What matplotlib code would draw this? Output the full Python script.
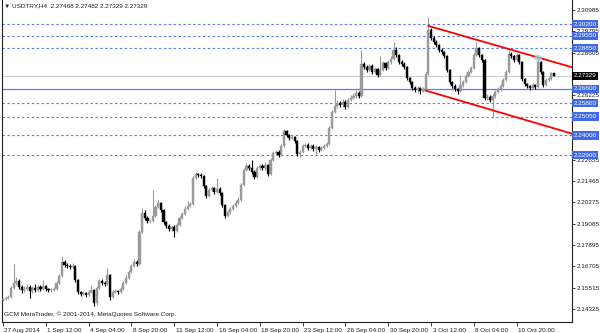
import numpy as np
import matplotlib.pyplot as plt
from matplotlib import transforms

# USDTRY H4 candles (open = previous close)
first_open = 2.1483
close = [2.1489, 2.1494, 2.1500, 2.1550, 2.1578, 2.1589, 2.1556, 2.1539, 2.1544, 2.1556,
         2.1533, 2.1550, 2.1539, 2.1556, 2.1544, 2.1561, 2.1544, 2.1539, 2.1539, 2.1544,
         2.1578, 2.1617, 2.1695, 2.1678, 2.1672, 2.1667, 2.1672, 2.1595, 2.1528, 2.1516,
         2.1522, 2.1511, 2.1528, 2.1539, 2.1466, 2.1550, 2.1589, 2.1578, 2.1572, 2.1622,
         2.1500, 2.1528, 2.1533, 2.1528, 2.1544, 2.1578, 2.1606, 2.1639, 2.1672, 2.1695,
         2.1684, 2.1862, 2.1968, 2.1940, 2.1923, 2.1923, 2.1951, 2.2001, 2.2024, 2.1985,
         2.1917, 2.1895, 2.1879, 2.1890, 2.1867, 2.1901, 2.1940, 2.1962, 2.1990, 2.2007,
         2.2018, 2.2163, 2.2185, 2.2179, 2.2174, 2.2118, 2.2063, 2.2096, 2.2107, 2.2085,
         2.2102, 2.2079, 2.2012, 2.1951, 2.1973, 2.1990, 2.2007, 2.2024, 2.2040, 2.2124,
         2.2207, 2.2230, 2.2218, 2.2196, 2.2168, 2.2218, 2.2230, 2.2218, 2.2235, 2.2185,
         2.2263, 2.2302, 2.2308, 2.2291, 2.2341, 2.2424, 2.2402, 2.2385, 2.2391, 2.2369,
         2.2296, 2.2308, 2.2341, 2.2347, 2.2330, 2.2341, 2.2325, 2.2336, 2.2319, 2.2330,
         2.2341, 2.2353, 2.2441, 2.2530, 2.2564, 2.2580, 2.2569, 2.2586, 2.2558, 2.2597,
         2.2608, 2.2619, 2.2636, 2.2619, 2.2798, 2.2781, 2.2764, 2.2787, 2.2753, 2.2770,
         2.2736, 2.2764, 2.2803, 2.2775, 2.2809, 2.2826, 2.2876, 2.2848, 2.2809, 2.2798,
         2.2781, 2.2720, 2.2697, 2.2664, 2.2653, 2.2664, 2.2647, 2.2658, 2.2742, 2.2987,
         2.2943, 2.2920, 2.2904, 2.2876, 2.2864, 2.2842, 2.2764, 2.2697, 2.2675, 2.2658,
         2.2647, 2.2681, 2.2697, 2.2731, 2.2753, 2.2775, 2.2848, 2.2887, 2.2848, 2.2820,
         2.2608, 2.2614, 2.2597, 2.2619, 2.2642, 2.2658, 2.2675, 2.2709, 2.2753, 2.2853,
         2.2842, 2.2820, 2.2848, 2.2809, 2.2714, 2.2686, 2.2675, 2.2664, 2.2681, 2.2670,
         2.2809, 2.2753, 2.2681, 2.2709, 2.2714, 2.27468, 2.27329]
high = [2.1497, 2.1502, 2.1511, 2.1560, 2.1684, 2.1612, 2.1600, 2.1565, 2.1560, 2.1575,
        2.1567, 2.1562, 2.1572, 2.1567, 2.1565, 2.1595, 2.1567, 2.1552, 2.1548, 2.1555,
        2.1590, 2.1628, 2.1728, 2.1706, 2.1689, 2.1684, 2.1690, 2.1680, 2.1600, 2.1536,
        2.1533, 2.1530, 2.1539, 2.1567, 2.1545, 2.1562, 2.1600, 2.1598, 2.1590, 2.1661,
        2.1630, 2.1539, 2.1545, 2.1540, 2.1556, 2.1590, 2.1620, 2.1650, 2.1684, 2.1710,
        2.1706, 2.1873, 2.1996, 2.1985, 2.1951, 2.1935, 2.2096, 2.2012, 2.2040, 2.2030,
        2.1990, 2.1925, 2.1906, 2.1901, 2.1900, 2.1912, 2.1951, 2.1973, 2.2007, 2.2035,
        2.2030, 2.2174, 2.2196, 2.2190, 2.2190, 2.2180, 2.2124, 2.2107, 2.2118, 2.2113,
        2.2163, 2.2110, 2.2085, 2.2018, 2.1985, 2.2001, 2.2018, 2.2040, 2.2057, 2.2135,
        2.2218, 2.2246, 2.2240, 2.2263, 2.2205, 2.2230, 2.2241, 2.2240, 2.2252, 2.2241,
        2.2274, 2.2313, 2.2319, 2.2319, 2.2352, 2.2435, 2.2430, 2.2410, 2.2402, 2.2397,
        2.2375, 2.2319, 2.2352, 2.2358, 2.2358, 2.2352, 2.2350, 2.2347, 2.2343, 2.2341,
        2.2352, 2.2364, 2.2452, 2.2541, 2.2653, 2.2597, 2.2590, 2.2600, 2.2597, 2.2608,
        2.2625, 2.2636, 2.2653, 2.2645, 2.2876, 2.2809, 2.2792, 2.2798, 2.2795, 2.2781,
        2.2776, 2.2842, 2.2815, 2.2809, 2.2820, 2.2842, 2.2920, 2.2890, 2.2855, 2.2820,
        2.2809, 2.2787, 2.2725, 2.2703, 2.2675, 2.2675, 2.2670, 2.2670, 2.2753, 2.3059,
        2.2998, 2.2954, 2.2931, 2.2910, 2.2887, 2.2870, 2.2848, 2.2770, 2.2703, 2.2686,
        2.2664, 2.2736, 2.2709, 2.2742, 2.2764, 2.2787, 2.2859, 2.2920, 2.2895, 2.2855,
        2.2826, 2.2630, 2.2625, 2.2630, 2.2653, 2.2670, 2.2686, 2.2720, 2.2764, 2.2876,
        2.2864, 2.2848, 2.2859, 2.2855, 2.2815, 2.2720, 2.2692, 2.2681, 2.2692, 2.2686,
        2.2831, 2.2815, 2.2758, 2.2720, 2.2725, 2.2753, 2.27482]
low = [2.1478, 2.1484, 2.1489, 2.1495, 2.1544, 2.1565, 2.1545, 2.1522, 2.1530, 2.1538,
       2.1494, 2.1525, 2.1530, 2.1530, 2.1535, 2.1538, 2.1535, 2.1530, 2.1528, 2.1533,
       2.1540, 2.1572, 2.1610, 2.1668, 2.1661, 2.1656, 2.1659, 2.1585, 2.1516, 2.1505,
       2.1509, 2.1500, 2.1505, 2.1522, 2.1450, 2.1458, 2.1544, 2.1566, 2.1560, 2.1566,
       2.1483, 2.1494, 2.1520, 2.1516, 2.1520, 2.1538, 2.1570, 2.1598, 2.1632, 2.1665,
       2.1672, 2.1678, 2.1855, 2.1929, 2.1912, 2.1912, 2.1917, 2.1945, 2.1995, 2.1975,
       2.1906, 2.1884, 2.1867, 2.1870, 2.1834, 2.1860, 2.1895, 2.1935, 2.1955, 2.1985,
       2.2000, 2.2012, 2.2155, 2.2168, 2.2163, 2.2107, 2.2050, 2.2057, 2.2090, 2.2074,
       2.2079, 2.2068, 2.2001, 2.1940, 2.1945, 2.1965, 2.1985, 2.2000, 2.2018, 2.2035,
       2.2118, 2.2200, 2.2207, 2.2185, 2.2157, 2.2160, 2.2210, 2.2207, 2.2210, 2.2174,
       2.2180, 2.2257, 2.2296, 2.2280, 2.2285, 2.2335, 2.2391, 2.2374, 2.2378, 2.2358,
       2.2285, 2.2280, 2.2302, 2.2335, 2.2319, 2.2324, 2.2313, 2.2297, 2.2308, 2.2313,
       2.2324, 2.2335, 2.2347, 2.2435, 2.2524, 2.2552, 2.2558, 2.2558, 2.2547, 2.2552,
       2.2590, 2.2600, 2.2608, 2.2608, 2.2613, 2.2770, 2.2753, 2.2758, 2.2742, 2.2745,
       2.2725, 2.2730, 2.2758, 2.2764, 2.2770, 2.2800, 2.2820, 2.2837, 2.2798, 2.2787,
       2.2770, 2.2709, 2.2686, 2.2653, 2.2642, 2.2636, 2.2630, 2.2640, 2.2652, 2.2736,
       2.2930, 2.2910, 2.2893, 2.2865, 2.2853, 2.2831, 2.2753, 2.2686, 2.2664, 2.2647,
       2.2630, 2.2640, 2.2670, 2.2690, 2.2725, 2.2747, 2.2770, 2.2842, 2.2837, 2.2809,
       2.2597, 2.2597, 2.2586, 2.2497, 2.2610, 2.2636, 2.2650, 2.2670, 2.2703, 2.2747,
       2.2831, 2.2809, 2.2815, 2.2798, 2.2703, 2.2675, 2.2664, 2.2653, 2.2658, 2.2658,
       2.2664, 2.2742, 2.2670, 2.2675, 2.2703, 2.2709, 2.27329]

x_tick_bars = [0, 16, 32, 48, 64, 80, 96, 112, 128, 144, 160, 176, 192]
x_tick_labels = ['27 Aug 2014', '1 Sep 12:00', '4 Sep 04:00', '8 Sep 20:00', '11 Sep 12:00',
                 '16 Sep 04:00', '18 Sep 20:00', '23 Sep 12:00', '26 Sep 04:00',
                 '30 Sep 20:00', '3 Oct 12:00', '8 Oct 04:00', '10 Oct 20:00']
y_ticks = [2.30985, 2.29795, 2.28605, 2.27415, 2.26225, 2.25035, 2.23845, 2.22655,
           2.21465, 2.20275, 2.19085, 2.17895, 2.16705, 2.15515, 2.14325]
# ticks whose label is fully hidden behind a price box in the terminal
hidden_ticks = [2.27415, 2.25035]

dashed_levels = [2.30200, 2.29550, 2.28850, 2.25800, 2.25050, 2.24000, 2.22900]
solid_level = 2.26600
last_price = 2.27329

# channel (bar, price) anchors
upper_channel = ([159, 214], [2.3010, 2.2774])
lower_channel = ([158, 214], [2.2650, 2.2404])
marker_point = (200, 2.2831)

plt.rcParams['font.family'] = ['Liberation Sans', 'DejaVu Sans']
fs = 4.6
blue = '#4169E1'
line_blue = '#5a7ef0'

o = np.array([first_open] + close[:-1])
c = np.array(close)
h = np.array(high)
l = np.array(low)
idx = np.arange(len(c))
up = c >= o

fig = plt.figure(figsize=(6, 3.33), dpi=100)
ax = fig.add_axes([1.5 / 600, 11 / 333, 570.5 / 600, 322 / 333])
ax.set_xlim(-0.56, 212.7)
ax.set_ylim(2.13607, 2.31542)

# levels
for lv in dashed_levels:
    ax.axhline(lv, color=line_blue, lw=0.8, ls=(0, (2.2, 2.2)), zorder=1)
ax.axhline(solid_level, color=line_blue, lw=0.9, zorder=1)
ax.axhline(last_price, color='#cfcfcf', lw=0.8, zorder=1)

# candles
for mask, col in [(up, '#9a9a9a'), (~up, 'black')]:
    ax.vlines(idx[mask], l[mask], h[mask], color=col, lw=0.8, zorder=2)
    ax.bar(idx[mask], np.abs(c - o)[mask], bottom=np.minimum(o, c)[mask], width=0.8,
           color=col, edgecolor=col, linewidth=0.3, zorder=3)

# channel lines
for bars, prices in [upper_channel, lower_channel]:
    ax.plot(bars, prices, color='red', lw=1.3, zorder=4)
ax.scatter([marker_point[0]], [marker_point[1]], s=28, color='#8fd0e8', alpha=0.7,
           edgecolors='none', zorder=5)

# axes styling
ax.spines['top'].set_visible(False)
for side in ['left', 'right', 'bottom']:
    ax.spines[side].set_linewidth(0.8)
    ax.spines[side].set_color('#202020')

ax.yaxis.tick_right()
ax.set_yticks(y_ticks)
ax.set_yticklabels(['' if v in hidden_ticks else f'{v:.5f}' for v in y_ticks])
ax.tick_params(axis='y', direction='out', length=2.5, width=0.6, pad=1,
               labelsize=fs, colors='#202020')
ax.set_xticks(x_tick_bars)
ax.set_xticklabels(x_tick_labels, ha='left')
ax.tick_params(axis='x', direction='out', length=3, width=0.6, pad=1,
               labelsize=fs, colors='#202020')
shift = transforms.ScaledTranslation(1.5 / 100, 0, fig.dpi_scale_trans)
for lab in ax.get_xticklabels():
    lab.set_transform(lab.get_transform() + shift)

# price labels on the right axis
trans = transforms.blended_transform_factory(ax.transAxes, ax.transData)
for lv in dashed_levels + [solid_level]:
    ax.text(1.003, lv, f'{lv:.5f}', transform=trans, va='center', ha='left',
            fontsize=fs, color='white', clip_on=False, zorder=10,
            bbox=dict(boxstyle='square,pad=0.25', fc=blue, ec='none'))
ax.text(1.003, last_price, f'{last_price:.5f}', transform=trans, va='center', ha='left',
        fontsize=fs, color='white', clip_on=False, zorder=10,
        bbox=dict(boxstyle='square,pad=0.25', fc='black', ec='none'))

# header and footer texts
ax.text(0.004, 0.983, '\u25bc USDTRY,H4  2.27468 2.27482 2.27329 2.27329',
        transform=ax.transAxes, fontsize=fs, color='#202020', va='center', ha='left')
ax.text(0.005, 0.024, 'GCM MetaTrader, \u00a9 2001-2014, MetaQuotes Software Corp.',
        transform=ax.transAxes, fontsize=fs, color='#202020', va='center', ha='left')

fig.savefig('out.png', dpi=100)
